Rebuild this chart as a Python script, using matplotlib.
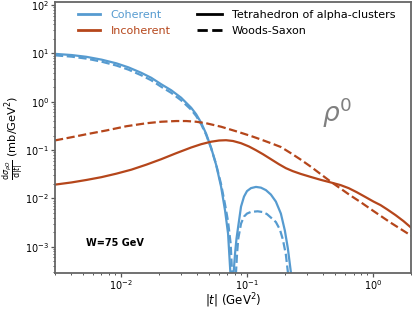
import matplotlib
matplotlib.use("Agg")
import matplotlib.pyplot as plt
from matplotlib.lines import Line2D

# ---------------- data ----------------
# Coherent, tetrahedron of alpha-clusters (solid blue)
coh_tet_t = [0.00300, 0.004062, 0.005337, 0.007013, 0.009214, 0.01146, 0.01452,
             0.01742, 0.02090, 0.02507, 0.03007, 0.03609, 0.03952, 0.04329,
             0.04742, 0.05194, 0.05687, 0.06230, 0.06700, 0.07078, 0.07379,
             0.0750, 0.0762, 0.0775,
             0.0785, 0.0804, 0.0826, 0.0865, 0.0897, 0.0947, 0.1000, 0.1076,
             0.1178, 0.1290, 0.1413, 0.1548, 0.1695, 0.1857, 0.1997, 0.2110,
             0.2228, 0.2320]
coh_tet_y = [9.8, 9.27, 8.51, 7.45, 6.24, 5.16, 3.97,
             3.13, 2.30, 1.73, 1.21, 0.751, 0.552, 0.368,
             0.218, 0.112, 0.0499, 0.0175, 0.0056, 0.00187, 3.0e-4,
             8e-5, 1e-7, 8e-5,
             3.1e-4, 7.2e-4, 1.48e-3, 3.48e-3, 6.77e-3, 1.09e-2, 1.416e-2, 1.633e-2,
             1.729e-2, 1.67e-2, 1.484e-2, 1.20e-2, 8.59e-3, 4.85e-3, 2.16e-3, 9.2e-4,
             3.0e-4, 5e-5]

# Coherent, Woods-Saxon (dashed blue)
coh_ws_t = [0.00300, 0.004062, 0.005337, 0.007013, 0.009214, 0.01146, 0.01452,
            0.01742, 0.02090, 0.02507, 0.03007, 0.03609, 0.03952, 0.04329,
            0.04742, 0.05194, 0.05687, 0.06230, 0.06700, 0.07078, 0.07420,
            0.0761, 0.0775, 0.0790, 0.0805,
            0.08185, 0.0834, 0.0853, 0.0897, 0.0947, 0.1000, 0.1076, 0.1215,
            0.1338, 0.1439, 0.1548, 0.1695, 0.1824, 0.1926, 0.2034, 0.2110, 0.2180]
coh_ws_y = [9.14, 8.59, 7.81, 6.77, 5.62, 4.63, 3.53,
            2.78, 2.04, 1.53, 1.07, 0.684, 0.507, 0.343,
            0.208, 0.109, 0.0511, 0.0197, 0.00745, 0.00332, 1.16e-3,
            3.0e-4, 6e-5, 1e-7, 6e-5,
            3.0e-4, 7.2e-4, 1.48e-3, 3.01e-3, 4.21e-3, 4.85e-3, 5.26e-3, 5.41e-3,
            5.21e-3, 4.74e-3, 4.01e-3, 3.24e-3, 2.27e-3, 1.41e-3, 6.9e-4, 3.0e-4, 5e-5]

# Incoherent, tetrahedron of alpha-clusters (solid red)
inc_tet_t = [0.00300, 0.004062, 0.005337, 0.007013, 0.009214, 0.01211, 0.01591,
             0.02090, 0.02746, 0.03609, 0.04329, 0.05194, 0.06008, 0.06823,
             0.07750, 0.08965, 0.1037, 0.1178, 0.1338, 0.1548, 0.1790, 0.2034,
             0.2310, 0.2673, 0.3206, 0.3846, 0.4613, 0.5534, 0.6402, 0.7404,
             0.8725, 1.0093, 1.1463, 1.302, 1.507, 1.742, 2.00]
inc_tet_y = [0.01928, 0.02141, 0.02411, 0.02754, 0.03254, 0.03936, 0.04993,
             0.06486, 0.08630, 0.1132, 0.1324, 0.1491, 0.1579, 0.1601,
             0.1542, 0.1389, 0.1187, 0.09952, 0.08228, 0.06486, 0.05112, 0.04227,
             0.03664, 0.03209, 0.02781, 0.02423, 0.02141, 0.01883, 0.01632, 0.01349,
             0.01064, 0.008590, 0.007271, 0.005869, 0.004519, 0.003397, 0.002492]

# Incoherent, Woods-Saxon (dashed red)
inc_ws_t = [0.00300, 0.004062, 0.005337, 0.007682, 0.01105, 0.01591, 0.02090,
            0.02746, 0.03294, 0.03952, 0.04742, 0.06230, 0.08185, 0.1076,
            0.1290, 0.1548, 0.1857, 0.2228, 0.2673, 0.3206, 0.3846, 0.4613,
            0.5534, 0.6640, 0.7966, 1.0093, 1.375, 2.00]
inc_ws_y = [0.1586, 0.1847, 0.2131, 0.2553, 0.3117, 0.3595, 0.3861,
            0.3993, 0.3993, 0.3861, 0.3595, 0.3044, 0.2457, 0.1956,
            0.1656, 0.1389, 0.1159, 0.08630, 0.06334, 0.04540, 0.03177, 0.02224,
            0.01594, 0.01143, 0.008387, 0.005465, 0.003162, 0.001703]

series_labels = ["Coherent", "Incoherent"]
model_labels = ["Tetrahedron of alpha-clusters", "Woods-Saxon"]
energy_label = "W=75 GeV"
meson_label = r"$\rho^0$"

# ---------------- styling ----------------
BLUE = "#569bd0"
RED = "#b5461b"
LW = 1.6

plt.rcParams["font.family"] = ["DejaVu Sans"]
fig = plt.figure(figsize=(4.12, 3.09), dpi=100)
ax = fig.add_axes([55 / 412, 1 - 272.7 / 309, 356 / 412, 270.5 / 309])

ax.plot(coh_tet_t, coh_tet_y, color=BLUE, lw=LW, ls="-")
ax.plot(coh_ws_t, coh_ws_y, color=BLUE, lw=LW, ls="--")
ax.plot(inc_tet_t, inc_tet_y, color=RED, lw=LW, ls="-")
ax.plot(inc_ws_t, inc_ws_y, color=RED, lw=LW, ls="--")

ax.set_xscale("log")
ax.set_yscale("log")
ax.set_xlim(0.003, 2.0)
ax.set_ylim(2.9e-4, 1.15e2)

for sp in ax.spines.values():
    sp.set_color("#666666")
    sp.set_linewidth(1.3)
ax.tick_params(which="both", colors="#555555", labelcolor="black", labelsize=7, pad=1.5)
ax.tick_params(which="major", length=2.8, width=0.9)
ax.tick_params(which="minor", length=1.6, width=0.7)

ax.set_xlabel(r"$|t|$ (GeV$^2$)", fontsize=8.5, labelpad=-0.5)
ax.set_ylabel(r"$\frac{\mathrm{d}\sigma_{\rho O}}{\mathrm{d}|t|}$ (mb/GeV$^2$)",
              fontsize=8.2, labelpad=0)
ax.yaxis.set_label_coords(-0.082, 0.5)

ax.text(0.169, 0.11, energy_label, transform=ax.transAxes, fontsize=7,
        fontweight="bold", ha="center", va="center")
ax.text(0.792, 0.59, meson_label, transform=ax.transAxes, fontsize=19,
        color="#808080", ha="center", va="center")

h1 = [Line2D([], [], color=BLUE, lw=2), Line2D([], [], color=RED, lw=2)]
leg1 = ax.legend(h1, series_labels, loc="upper left", frameon=False, fontsize=8,
                 bbox_to_anchor=(76 / 412, 1 - 8 / 309), bbox_transform=fig.transFigure,
                 borderaxespad=0, borderpad=0.2, handlelength=2.0, handletextpad=0.9,
                 labelspacing=0.55)
for txt, c in zip(leg1.get_texts(), [BLUE, RED]):
    txt.set_color(c)
ax.add_artist(leg1)

h2 = [Line2D([], [], color="black", lw=2, ls="-"), Line2D([], [], color="black", lw=2, ls="--")]
ax.legend(h2, model_labels, loc="upper left", frameon=False, fontsize=8,
          bbox_to_anchor=(195 / 412, 1 - 8 / 309), bbox_transform=fig.transFigure,
          borderaxespad=0, borderpad=0.2, handlelength=2.2, handletextpad=0.9,
          labelspacing=0.55)

fig.savefig("out.png", dpi=100)
